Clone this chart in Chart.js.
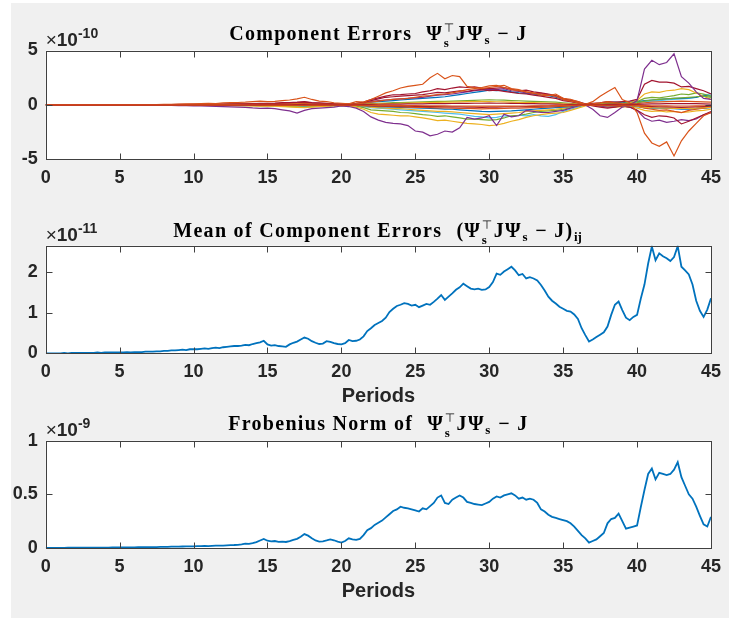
<!DOCTYPE html>
<html><head><meta charset="utf-8">
<script src="https://cdn.jsdelivr.net/npm/chart.js@4"></script>
<style>
html,body{margin:0;padding:0;background:#fff;}
#page{position:relative;width:729px;height:618px;overflow:hidden;}
#bg{position:absolute;left:11px;top:3px;right:0;bottom:0;background:#f0f0f0;}
canvas{position:absolute;left:0;}
</style></head><body>
<div id="page"><div id="bg"></div>
<canvas id="c1" width="729" height="200" style="top:0px"></canvas>
<canvas id="c2" width="729" height="225" style="top:190px"></canvas>
<canvas id="c3" width="729" height="213" style="top:405px"></canvas>
</div>
<script>
// ---------------- DATA ----------------
const periodTicks = [0,5,10,15,20,25,30,35,40,45];
const componentStep = 0.5;   // periods between samples (component errors, x 1e-10)
const meanStep = 0.25;       // periods between samples (mean / norm)

const compYTicks = [-5,0,5];
const meanYTicks = [0,1,2];
const frobYTicks = [0,0.5,1];

// Component errors (units of 1e-10), sampled every 0.5 period from 0 to 45
const errCyanG = [0,0,0,0,0,0,0,0,0,0,0,0,0,0,0,0,-0.01,-0.01,-0.01,-0.02,-0.02,-0.02,-0.03,-0.03,-0.03,-0.04,-0.04,
 -0.05,-0.05,-0.06,-0.06,-0.07,-0.08,-0.1,-0.12,-0.14,-0.1,-0.08,-0.07,-0.06,-0.05,
 -0.05,-0.08,-0.15,-0.25,-0.3,-0.35,-0.4,-0.45,-0.5,-0.55,-0.6,-0.65,-0.7,-0.75,
 -0.8,-0.85,-0.95,-1.05,-1.1,-1.2,-1.15,-1.0,-1.05,-0.95,-1.0,-0.9,-1.0,-1.05,
 -0.9,-0.6,-0.4,-0.2,-0.05,0.0,0.05,0.1,0.15,0.1,0.15,0.2,0.3,0.35,
 0.4,0.45,0.5,0.55,0.6,0.7,0.9,1.0];
const errBlueH = [0,0,0,0,0,0,0,0,0,0,0,0,0,0,0,0,0.01,0.01,0.01,0.02,0.02,0.02,0.03,0.03,0.03,0.04,0.04,
 0.05,0.05,0.06,0.06,0.07,0.08,0.1,0.11,0.12,0.1,0.08,0.07,0.06,0.05,
 0.05,0.08,0.15,0.25,0.3,0.35,0.4,0.45,0.5,0.55,0.6,0.65,0.7,0.75,
 0.85,0.95,1.05,1.15,1.25,1.35,1.3,1.35,1.2,1.1,1.05,1.0,0.9,0.85,
 0.7,0.5,0.35,0.2,0.05,0.1,0.15,0.2,0.25,0.2,0.25,0.3,0.4,0.45,
 0.5,0.55,0.6,0.6,0.65,0.7,0.9,0.8];
const errGreenF = [0,0,0,0,0,0,0,0,0,0,0,0,0,0,-0.01,-0.01,-0.01,-0.02,-0.02,-0.02,-0.03,-0.03,-0.04,-0.04,-0.05,-0.05,-0.06,
 -0.06,-0.08,-0.1,-0.08,-0.1,-0.12,-0.15,-0.18,-0.2,-0.15,-0.12,-0.1,-0.08,-0.05,
 -0.06,-0.12,-0.25,-0.45,-0.5,-0.55,-0.6,-0.7,-0.72,-0.8,-0.9,-0.95,-1.05,-1.0,
 -1.1,-1.2,-1.3,-1.3,-1.35,-1.4,-1.35,-1.2,-1.0,-0.95,-0.85,-0.7,-0.6,-0.55,
 -0.5,-0.4,-0.25,-0.1,0.0,0.05,0.1,0.15,0.2,0.15,0.2,0.3,0.6,0.7,
 0.65,0.75,0.85,1.0,0.95,1.1,1.0,0.8];
const errYellowE = [0,0,0,0,0,0,0,0,0,0,0,0,0,0,-0.01,-0.01,-0.02,-0.02,-0.03,-0.03,-0.04,-0.04,-0.05,-0.05,-0.06,-0.07,-0.07,
 -0.08,-0.1,-0.12,-0.1,-0.12,-0.15,-0.18,-0.22,-0.25,-0.2,-0.15,-0.12,-0.1,-0.08,
 -0.1,-0.2,-0.4,-0.7,-0.85,-0.9,-0.95,-1.0,-1.0,-1.1,-1.2,-1.3,-1.45,-1.4,
 -1.5,-1.6,-1.7,-1.75,-1.8,-1.9,-1.85,-1.7,-1.5,-1.35,-1.15,-1.0,-0.9,-0.8,
 -0.75,-0.7,-0.5,-0.3,-0.1,0.05,0.1,0.2,0.15,0.1,0.2,0.4,1.0,1.2,
 1.15,1.3,1.35,1.5,1.4,1.1,0.8,0.5];
const errYellowK = [0,0,0,0,0,0,0,0,0,0,0,0,0,0,0,0,0,0,0,0,0,0,0,0,0,0,0,
 -0.02,-0.03,-0.04,-0.03,-0.04,-0.05,-0.06,-0.07,-0.08,-0.06,-0.05,-0.04,-0.03,-0.02,
 -0.03,-0.05,-0.1,-0.2,-0.25,-0.3,-0.35,-0.35,-0.4,-0.45,-0.5,-0.55,-0.6,-0.6,
 -0.65,-0.7,-0.75,-0.8,-0.85,-0.9,-0.85,-0.8,-0.75,-0.7,-0.6,-0.55,-0.5,-0.45,
 -0.4,-0.3,-0.2,-0.1,0.0,-0.05,-0.1,-0.15,-0.2,-0.15,-0.2,-0.3,-0.5,-0.6,
 -0.55,-0.65,-0.6,-0.7,-0.65,-0.55,-0.5,-0.4];
const errGreenL = [0,0,0,0,0,0,0,0,0,0,0,0,0,0,0,0,0,0,0,0,0,0,0,0,0,0,0,
 0.02,0.02,0.03,0.03,0.03,0.04,0.05,0.05,0.06,0.05,0.04,0.04,0.03,0.03,
 0.03,0.05,0.08,0.12,0.15,0.17,0.2,0.22,0.24,0.26,0.28,0.3,0.32,0.33,
 0.35,0.37,0.4,0.42,0.45,0.47,0.45,0.43,0.4,0.38,0.35,0.32,0.3,0.28,
 0.25,0.2,0.15,0.08,0.02,0.05,0.08,0.1,0.12,0.1,0.12,0.18,0.35,0.45,
 0.5,0.55,0.6,0.65,0.7,0.75,0.8,0.7];
const errBlueM = [0,0,0,0,0,0,0,0,0,0,0,0,0,0,0,0,0,0,0,0,0,0,0,0,0,0,0,
 -0.02,-0.02,-0.03,-0.03,-0.03,-0.04,-0.05,-0.05,-0.06,-0.05,-0.04,-0.04,-0.03,-0.03,
 -0.03,-0.05,-0.08,-0.12,-0.15,-0.18,-0.2,-0.22,-0.25,-0.28,-0.3,-0.33,-0.35,-0.38,
 -0.4,-0.45,-0.5,-0.55,-0.6,-0.62,-0.6,-0.58,-0.55,-0.5,-0.45,-0.4,-0.35,-0.3,
 -0.25,-0.2,-0.15,-0.08,-0.02,-0.04,-0.06,-0.08,-0.1,-0.08,-0.1,-0.15,-0.25,-0.3,
 -0.3,-0.32,-0.35,-0.38,-0.4,-0.35,-0.3,-0.25];
const errPurpleI = [0,0,0,0,0,0,0,0,0,0,0,0,0,0,0,0,0.01,0.01,0.02,0.02,0.02,0.03,0.03,0.04,0.04,0.05,0.05,
 0.06,0.07,0.08,0.07,0.08,0.1,0.12,0.14,0.16,0.12,0.1,0.08,0.07,0.05,
 0.06,0.1,0.18,0.3,0.4,0.45,0.5,0.55,0.6,0.65,0.7,0.8,0.9,0.95,
 1.0,1.1,1.2,1.3,1.4,1.45,1.4,1.5,1.3,1.25,1.1,1.0,1.05,0.95,
 0.8,0.6,0.4,0.2,0.05,0.0,-0.1,-0.2,-0.15,-0.1,-0.2,-0.5,-1.2,-1.5,
 -1.4,-1.6,-1.5,-1.35,-1.45,-1.3,-0.9,-0.7];
const errRedD = [0,0,0,0,0,0,0,0,0,0,0,0,0,0,0.01,0.01,0.02,0.02,0.03,0.03,0.04,0.04,0.05,0.05,0.06,0.06,0.07,
 0.08,0.1,0.12,0.1,0.12,0.15,0.18,0.2,0.25,0.18,0.15,0.12,0.1,0.06,
 0.08,0.12,0.2,0.4,0.55,0.7,0.75,0.8,0.85,0.9,0.95,1.05,1.15,1.1,
 1.2,1.3,1.25,1.35,1.4,1.3,1.35,1.25,1.15,1.05,1.0,0.9,0.8,0.7,
 0.6,0.4,0.3,0.15,0.05,-0.1,-0.2,-0.3,-0.2,-0.1,-0.2,-0.5,-0.9,-1.15,
 -1.0,-1.05,-1.2,-1.75,-1.5,-1.2,-0.9,-0.6];
const errRedC = [0,0,0,0,0,0,0,0,0,0,0,0,0,0,0.01,0.02,0.02,0.03,0.04,0.05,0.05,0.06,0.07,0.07,0.08,0.09,0.1,
 0.1,0.12,0.15,0.14,0.16,0.2,0.22,0.25,0.3,0.22,0.18,0.15,0.1,0.08,
 0.1,0.15,0.25,0.5,0.65,0.8,0.93,0.95,1.0,1.05,1.2,1.3,1.5,1.4,
 1.55,1.65,1.6,1.65,1.55,1.5,1.55,1.6,1.45,1.3,1.35,1.2,1.1,1.0,
 0.85,0.55,0.45,0.3,0.1,0.15,0.2,0.3,0.25,0.3,0.35,0.5,1.9,2.25,
 2.1,2.1,2.0,1.65,1.7,1.5,1.3,1.0];
const errOrangeJ = [0,0,0,0,0,0,0,0,0,0,0,0,0,0,0,0,0.01,0.01,0.01,0.02,0.02,0.02,0.03,0.03,0.03,0.04,0.04,
 0.04,0.05,0.06,0.05,0.06,0.08,0.1,0.12,0.14,0.1,0.08,0.06,0.05,0.04,
 0.05,0.08,0.15,0.25,0.35,0.45,0.5,0.55,0.6,0.7,0.8,0.85,0.95,1.0,
 1.1,1.25,1.4,1.5,1.6,1.75,1.8,1.6,1.4,1.3,1.2,1.05,1.0,0.9,
 0.8,0.5,0.35,0.2,0.05,0.1,0.2,0.3,0.2,0.1,0.05,-0.1,-0.3,-0.4,
 -0.5,-0.45,-0.6,-0.7,-0.5,-0.4,-0.3,-0.2];
const errOrangeA = [0,0,0,0,0,0,0,0,0,0,0,0,0,0,0.02,0.03,0.05,0.05,0.08,0.1,0.1,0.12,0.15,0.12,0.18,0.2,0.22,
 0.25,0.3,0.35,0.3,0.32,0.4,0.45,0.55,0.7,0.5,0.35,0.3,0.2,0.15,
 0.1,0.3,0.25,0.5,0.8,1.1,1.3,1.55,1.7,1.8,1.9,2.5,2.9,2.4,
 2.7,2.6,1.7,1.6,1.5,1.6,1.7,1.8,1.5,1.4,1.2,1.1,0.9,0.85,
 1.0,0.6,0.5,0.3,0.05,0.3,0.8,1.2,1.6,0.5,0.2,-0.7,-2.6,-3.5,
 -3.8,-3.4,-4.7,-3.3,-2.4,-1.7,-1.0,-0.7];
const errPurpleA = [0,0,0,0,0,0,0,0,0,0,0,0,0,0,-0.02,-0.03,-0.04,-0.05,-0.06,-0.08,-0.1,-0.1,-0.12,-0.14,-0.15,-0.18,-0.2,
 -0.22,-0.28,-0.32,-0.3,-0.35,-0.45,-0.55,-0.75,-0.5,-0.35,-0.3,-0.25,-0.2,-0.1,
 -0.15,-0.3,-0.6,-1.1,-1.4,-1.6,-1.7,-1.75,-1.9,-2.4,-2.5,-2.85,-2.7,-2.4,
 -2.5,-2.1,-1.15,-1.3,-1.2,-1.0,-1.9,-0.85,-1.1,-1.0,-0.5,-0.6,-0.7,-0.7,
 -0.6,-0.5,-0.3,-0.1,0.0,-0.4,-1.0,-1.15,-0.7,-0.2,0.0,0.4,3.3,4.1,
 3.7,3.9,4.7,2.6,2.0,1.2,0.6,0.5];
const errYellowP = [0,0,0,0,0,0,0,0,0,0,0,0,0,0,0,0,0,0,0,0,0,0,0,0,0,0,0,
 0.01,0.01,0.02,0.02,0.02,0.03,0.03,0.04,0.04,0.03,0.03,0.02,0.02,0.02,
 0.02,0.04,0.06,0.08,0.1,0.12,0.13,0.15,0.16,0.18,0.2,0.22,0.24,0.25,
 0.26,0.28,0.3,0.31,0.32,0.3,0.29,0.28,0.26,0.24,0.22,0.2,0.18,0.16,
 0.14,0.1,0.07,0.04,0.01,-0.02,-0.04,-0.06,-0.08,-0.06,-0.08,-0.12,-0.2,-0.25,
 -0.28,-0.3,-0.32,-0.3,-0.33,-0.3,-0.25,-0.2];
const errOrangeQ = [0,0,0,0,0,0,0,0,0,0,0,0,0,0,0,0,0,0,0,0,0,0,0,0,0,0,0,
 -0.01,-0.02,-0.02,-0.02,-0.03,-0.03,-0.04,-0.04,-0.05,-0.04,-0.03,-0.03,-0.02,-0.02,
 -0.02,-0.04,-0.07,-0.1,-0.12,-0.14,-0.16,-0.18,-0.2,-0.22,-0.24,-0.25,-0.27,-0.28,
 -0.3,-0.32,-0.33,-0.35,-0.36,-0.35,-0.34,-0.33,-0.31,-0.29,-0.27,-0.25,-0.22,-0.2,
 -0.17,-0.13,-0.09,-0.05,-0.02,0.02,0.04,0.06,0.08,0.06,0.08,0.12,0.2,0.25,
 0.28,0.3,0.32,0.35,0.33,0.3,0.28,0.25];
const errRedS = [0,0,0,0,0,0,0,0,0,0,0,0,0,0,0,0,0,0,0,0,0,0,0,0,0,0,0,
 -0.01,-0.01,-0.01,-0.02,-0.02,-0.02,-0.03,-0.03,-0.03,-0.02,-0.02,-0.02,-0.01,-0.01,
 -0.01,-0.02,-0.04,-0.06,-0.08,-0.09,-0.1,-0.11,-0.12,-0.13,-0.14,-0.15,-0.16,-0.17,
 -0.18,-0.19,-0.2,-0.21,-0.22,-0.21,-0.2,-0.19,-0.18,-0.17,-0.16,-0.14,-0.12,-0.1,
 -0.09,-0.07,-0.05,-0.03,-0.01,-0.02,-0.03,-0.04,-0.05,-0.04,-0.05,-0.07,-0.12,-0.15,
 -0.17,-0.18,-0.2,-0.22,-0.2,-0.18,-0.15,-0.12];
const errRedN = [0,0,0,0,0,0,0,0,0,0,0,0,0,0,0,0,0,0,0,0,0,0,0,0,0,0,0,
 0.01,0.01,0.02,0.02,0.02,0.03,0.03,0.03,0.04,0.03,0.03,0.02,0.02,0.02,
 0.02,0.03,0.04,0.05,0.06,0.07,0.08,0.08,0.09,0.1,0.1,0.11,0.12,0.12,
 0.13,0.14,0.14,0.15,0.15,0.16,0.15,0.15,0.14,0.13,0.12,0.11,0.1,0.09,
 0.08,0.06,0.05,0.03,0.01,0.02,0.03,0.04,0.04,0.03,0.04,0.05,0.08,0.1,
 0.1,0.11,0.12,0.12,0.13,0.12,0.1,0.08];
const errOrangeO = [0,0,0,0,0,0,0,0,0,0,0,0,0,0,0,0,0,0,0,0,0,0,0,0,0,0,0,
 -0.01,-0.01,-0.01,-0.02,-0.02,-0.02,-0.02,-0.03,-0.03,-0.02,-0.02,-0.02,-0.01,-0.01,
 -0.01,-0.02,-0.03,-0.04,-0.05,-0.05,-0.06,-0.06,-0.07,-0.07,-0.08,-0.08,-0.09,-0.09,
 -0.1,-0.1,-0.11,-0.11,-0.12,-0.12,-0.12,-0.11,-0.11,-0.1,-0.1,-0.09,-0.08,-0.08,
 -0.07,-0.05,-0.04,-0.02,-0.01,-0.02,-0.02,-0.03,-0.03,-0.02,-0.03,-0.04,-0.06,-0.08,
 -0.08,-0.09,-0.1,-0.1,-0.1,-0.09,-0.08,-0.06];

// drawing order: first listed is drawn first (underneath)
const componentSeries = [errCyanG, errBlueH, errGreenF, errYellowE, errYellowK, errGreenL, errBlueM,
  errPurpleI, errRedD, errRedC, errOrangeJ, errOrangeA, errPurpleA, errYellowP, errOrangeQ, errRedS, errRedN, errOrangeO];
const componentColors = ['#4DBEEE','#0072BD','#77AC30','#EDB120','#EDB120','#77AC30','#0072BD',
  '#7E2F8E','#A2142F','#A2142F','#D95319','#D95319','#7E2F8E','#EDB120','#D95319','#A2142F','#A2142F','#D95319'];

// Mean of component errors (units of 1e-11), every 0.25 period
const meanErrValues = [
 0.00,0.00,0.00,0.00,0.00,0.01,0.00,0.01,0.01,0.01,0.01,0.01,0.01,0.01,0.02,0.01,0.02,0.02,0.02,0.02,0.02,0.02,0.03,0.02,0.03,0.03,0.03,0.04,0.04,
 0.04,0.05,0.05,0.06,0.06,0.07,0.07,0.08,0.09,0.08,0.10,0.10,
 0.10,0.11,0.12,0.11,0.13,0.14,0.13,0.15,0.16,0.17,0.18,0.18,
 0.19,0.21,0.20,0.23,0.25,0.27,0.31,0.22,
 0.19,0.20,0.18,0.17,0.16,0.22,0.26,0.29,
 0.34,0.39,0.36,0.30,0.26,0.23,0.24,0.30,
 0.28,0.25,0.23,0.22,0.25,0.33,0.30,0.31,
 0.34,0.42,0.55,0.62,0.70,0.75,0.80,0.88,
 1.02,1.10,1.17,1.20,1.24,1.22,1.18,1.20,
 1.14,1.18,1.22,1.20,1.27,1.35,1.44,1.32,
 1.40,1.48,1.57,1.63,1.72,1.66,1.60,1.58,
 1.60,1.57,1.58,1.64,1.76,1.97,1.94,2.02,
 2.08,2.14,2.05,1.93,1.96,1.85,1.88,1.85,
 1.80,1.69,1.55,1.40,1.30,1.23,1.15,1.10,
 1.05,1.03,0.96,0.85,0.62,0.45,0.29,0.34,
 0.40,0.46,0.52,0.66,0.95,1.20,1.28,1.07,
 0.88,0.82,0.90,0.95,1.35,1.70,2.22,2.64,
 2.30,2.47,2.40,2.35,2.28,2.38,2.65,2.14,
 2.05,1.95,1.70,1.30,1.05,0.90,1.08,1.36];

// Frobenius norm (units of 1e-9), every 0.25 period
const frobNormValues = [
 0.002,0.002,0.002,0.002,0.002,0.002,0.003,0.003,0.003,0.003,0.003,0.003,0.003,0.004,0.004,0.004,0.004,0.004,0.005,0.005,0.005,0.005,0.006,0.006,0.006,0.007,0.007,0.008,0.008,
 0.009,0.009,0.010,0.011,0.011,0.012,0.013,0.013,0.014,0.015,0.016,0.016,
 0.017,0.018,0.019,0.018,0.020,0.022,0.023,0.022,0.025,0.027,0.028,0.030,
 0.034,0.040,0.038,0.045,0.055,0.070,0.085,0.068,
 0.062,0.065,0.058,0.060,0.056,0.065,0.075,0.085,
 0.105,0.130,0.115,0.090,0.070,0.060,0.062,0.070,
 0.080,0.072,0.060,0.050,0.065,0.090,0.080,0.075,
 0.085,0.120,0.165,0.185,0.215,0.235,0.255,0.285,
 0.315,0.345,0.360,0.385,0.375,0.370,0.360,0.350,
 0.340,0.370,0.360,0.390,0.420,0.470,0.490,0.420,
 0.410,0.450,0.470,0.490,0.470,0.430,0.420,0.410,
 0.405,0.400,0.415,0.430,0.460,0.480,0.470,0.490,
 0.500,0.510,0.490,0.460,0.470,0.450,0.460,0.450,
 0.420,0.360,0.340,0.310,0.290,0.280,0.270,0.260,
 0.250,0.230,0.200,0.160,0.120,0.090,0.050,0.065,
 0.080,0.110,0.140,0.230,0.270,0.280,0.320,0.250,
 0.180,0.190,0.200,0.210,0.380,0.540,0.690,0.740,
 0.640,0.700,0.690,0.680,0.690,0.730,0.800,0.660,
 0.580,0.500,0.460,0.385,0.300,0.220,0.200,0.290];

// Titles (rich text runs)
const title1Runs = [{t:'Component Errors'},{gap:14},{t:'Ψ'},{sub:'s',sup:'⊤'},{t:'JΨ'},{sub:'s'},{t:' − J'}];
const title2Runs = [{t:'Mean of Component Errors'},{gap:14},{t:'(Ψ'},{sub:'s',sup:'⊤'},{t:'JΨ'},{sub:'s'},{t:' − J)'},{sub:'ij'}];
const title3Runs = [{t:'Frobenius Norm of'},{gap:14},{t:'Ψ'},{sub:'s',sup:'⊤'},{t:'JΨ'},{sub:'s'},{t:' − J'}];
const xAxisLabel = 'Periods';

// ---------------- RENDERING ----------------
const SANS = '"Liberation Sans", Arial, Helvetica, sans-serif';
const SERIF = '"Liberation Serif", "DejaVu Serif", serif';
const AXIS_COLOR = '#262626';

function toPoints(values, step) { return values.map((v, i) => ({x: i * step, y: v})); }

function setSpacing(ctx, px) { if ('letterSpacing' in ctx) ctx.letterSpacing = px + 'px'; }

function drawRuns(ctx, runs, cx, baseline, size) {
  const main = `bold ${size}px ${SERIF}`;
  const small = `bold ${Math.round(size*0.66)}px ${SERIF}`;
  const sym = `${Math.round(size*0.6)}px "DejaVu Sans", sans-serif`;
  const SP = 1.3;
  const widths = runs.map(r => {
    if (r.gap) return r.gap;
    if (r.sub !== undefined) {
      setSpacing(ctx, 0);
      ctx.font = small; const ws = ctx.measureText(r.sub).width;
      let wp = 0; if (r.sup) { ctx.font = sym; wp = ctx.measureText(r.sup).width; }
      return Math.max(ws, wp) + 2;
    }
    setSpacing(ctx, SP);
    ctx.font = main; return ctx.measureText(r.t).width;
  });
  const total = widths.reduce((a, b) => a + b, 0);
  let x = cx - total / 2;
  ctx.fillStyle = '#000'; ctx.textBaseline = 'alphabetic'; ctx.textAlign = 'left';
  runs.forEach((r, i) => {
    if (r.gap) {} else if (r.sub !== undefined) {
      setSpacing(ctx, 0);
      ctx.font = small;
      ctx.fillText(r.sub, x + 0.5, baseline + (r.sup ? size*0.33 : size*0.2));
      if (r.sup) { ctx.font = sym; ctx.fillText(r.sup, x + 0.5, baseline - size*0.42); }
    } else { setSpacing(ctx, SP); ctx.font = main; ctx.fillText(r.t, x, baseline); }
    x += widths[i];
  });
  setSpacing(ctx, 0);
}

function makeAxesPlugin(cfg) {
  return {
    id: 'matlabAxes',
    beforeDraw(chart) {
      const {ctx, chartArea: a} = chart;
      ctx.save(); ctx.fillStyle = '#ffffff';
      ctx.fillRect(a.left, a.top, a.right - a.left, a.bottom - a.top); ctx.restore();
    },
    afterDatasetsDraw(chart) {
      const {ctx, chartArea: a, scales} = chart;
      const L = Math.round(a.left) + 0.5, R = Math.round(a.right) + 0.5, T = Math.round(a.top) + 0.5, B = Math.round(a.bottom) + 0.5;
      ctx.save();
      ctx.strokeStyle = '#404040'; ctx.lineWidth = 1;
      ctx.strokeRect(L, T, R - L, B - T);
      ctx.beginPath();
      scales.x.ticks.forEach(t => {
        const px = Math.round(scales.x.getPixelForValue(t.value)) + 0.5;
        ctx.moveTo(px, B); ctx.lineTo(px, B - 6); ctx.moveTo(px, T); ctx.lineTo(px, T + 6);
      });
      scales.y.ticks.forEach(t => {
        const py = Math.round(scales.y.getPixelForValue(t.value)) + 0.5;
        ctx.moveTo(L, py); ctx.lineTo(L + 6, py); ctx.moveTo(R, py); ctx.lineTo(R - 6, py);
      });
      ctx.stroke(); ctx.restore();
    },
    afterDraw(chart) {
      const {ctx, chartArea: a} = chart;
      ctx.save();
      // exponent label
      ctx.fillStyle = AXIS_COLOR; ctx.textAlign = 'left'; ctx.textBaseline = 'alphabetic';
      let x = a.left;
      const by = a.top - 5;
      ctx.font = `19px ${SANS}`; ctx.fillText('×', x, by); x += ctx.measureText('×').width;
      ctx.font = `bold 19px ${SANS}`; ctx.fillText('10', x, by); x += ctx.measureText('10').width;
      ctx.font = `bold 14px ${SANS}`; ctx.fillText(cfg.exponent, x, by - 8);
      // title
      drawRuns(ctx, cfg.titleRuns, (a.left + a.right) / 2, a.top + cfg.titleOffset, 20);
      ctx.restore();
    }
  };
}

function makeChart(id, cfg) {
  const tickFont = {family: SANS, size: 18, weight: 'bold'};
  new Chart(document.getElementById(id), {
    type: 'line',
    data: {datasets: cfg.datasets},
    options: {
      responsive: false, animation: false, devicePixelRatio: 1,
      layout: {padding: {left: 0, right: 13, top: cfg.top, bottom: cfg.bottomPad}},
      plugins: {legend: {display: false}, tooltip: {enabled: false}, title: {display: false}},
      elements: {point: {radius: 0}, line: {tension: 0}},
      scales: {
        x: {
          type: 'linear', min: 0, max: 45,
          grid: {display: false, drawTicks: false}, border: {display: false},
          ticks: {font: tickFont, color: AXIS_COLOR, padding: 8, maxRotation: 0, autoSkip: false, callback: v => String(v)},
          afterBuildTicks: s => { s.ticks = periodTicks.map(v => ({value: v})); },
          afterFit: s => { s.height = cfg.xh; },
          title: {display: !!cfg.xlabel, text: cfg.xlabel || '', color: AXIS_COLOR,
                  font: {family: SANS, size: 20, weight: 'bold'}, padding: {top: 0, bottom: 0}}
        },
        y: {
          type: 'linear', min: cfg.ymin, max: cfg.ymax,
          grid: {display: false, drawTicks: false}, border: {display: false},
          ticks: {font: tickFont, color: AXIS_COLOR, padding: 8, autoSkip: false, callback: v => String(v)},
          afterBuildTicks: s => { s.ticks = cfg.yticks.map(v => ({value: v})); },
          afterFit: s => { s.width = 45.7; }
        }
      }
    },
    plugins: [makeAxesPlugin(cfg)]
  });
}

const nComp = componentSeries.length;
makeChart('c1', {
  top: 50.5, bottomPad: 0, xh: 40.7, ymin: -5, ymax: 5, yticks: compYTicks,
  exponent: '-10', titleRuns: title1Runs, titleOffset: -10.5,
  datasets: componentSeries.map((vals, i) => ({
    data: toPoints(vals, componentStep), borderColor: componentColors[i], borderWidth: 1.2, fill: false,
    order: nComp - 1 - i
  }))
});
makeChart('c2', {
  top: 55.7, bottomPad: 6.7, xh: 55, ymin: 0, ymax: 2.66, yticks: meanYTicks,
  exponent: '-11', titleRuns: title2Runs, titleOffset: -8.7, xlabel: xAxisLabel,
  datasets: [{data: toPoints(meanErrValues, meanStep), borderColor: '#0072BD', borderWidth: 1.8, fill: false}]
});
makeChart('c3', {
  top: 35.7, bottomPad: 15, xh: 55, ymin: 0, ymax: 1, yticks: frobYTicks,
  exponent: '-9', titleRuns: title3Runs, titleOffset: -10.7, xlabel: xAxisLabel,
  datasets: [{data: toPoints(frobNormValues, meanStep), borderColor: '#0072BD', borderWidth: 1.8, fill: false}]
});
</script>
</body></html>
